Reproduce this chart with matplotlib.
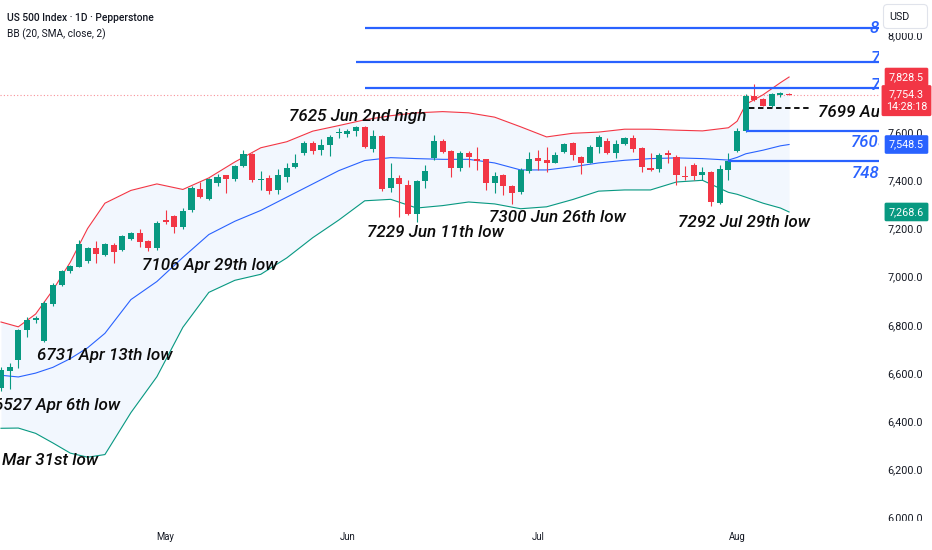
from pathlib import Path

import matplotlib
matplotlib.use("Agg")
from matplotlib import pyplot as plt
from matplotlib import font_manager
from matplotlib.patches import FancyBboxPatch, Rectangle
from matplotlib.ticker import FuncFormatter
import matplotlib.transforms as mtransforms
import numpy as np

# Canvas constants (pixels)
FIG_W, FIG_H, DPI = 932, 550, 100
PLOT_RIGHT_PX = 879
PLOT_BOTTOM_PX = 524
BAR_PX = 8.66          # pixel step between two candles
BAR0_PX = 1.0          # pixel x of the first candle
PX_PER_POINT = 0.241   # vertical pixels per index point
REF_PX, REF_PRICE = 276.7, 7000.0

GREEN = "#089981"
RED = "#F23645"
BLUE = "#2962FF"
TEXT = "#131722"

# Daily candles, Apr 6 .. Aug 11
OPEN = [6540, 6610, 6655, 6777, 6822, 6735, 6887, 6966, 7022, 7042,
        7066, 7120, 7092, 7131, 7112, 7156, 7180, 7148, 7118, 7235,
        7252, 7207, 7277, 7363, 7324, 7390, 7421, 7404, 7459, 7508,
        7401, 7408, 7360, 7415, 7456, 7512, 7556, 7526, 7546, 7595,
        7592, 7606, 7620, 7530, 7584, 7367, 7411, 7380, 7260, 7397,
        7494, 7563, 7523, 7450, 7514, 7487, 7487, 7390, 7422, 7376,
        7353, 7440, 7491, 7484, 7473, 7519, 7553, 7495, 7473, 7539,
        7564, 7512, 7551, 7574, 7533, 7450, 7446, 7512, 7498, 7418,
        7462, 7422, 7436, 7307, 7443, 7522, 7605, 7750, 7736, 7710,
        7756, 7758]
HIGH = [6625, 6640, 6785, 6833, 6838, 6898, 6972, 7028, 7050, 7152,
        7125, 7150, 7140, 7138, 7172, 7185, 7200, 7152, 7232, 7277,
        7258, 7284, 7376, 7394, 7410, 7425, 7424, 7465, 7526, 7512,
        7440, 7422, 7446, 7473, 7509, 7565, 7564, 7570, 7588, 7616,
        7612, 7625, 7624, 7609, 7590, 7470, 7420, 7400, 7400, 7463,
        7588, 7570, 7527, 7523, 7523, 7539, 7490, 7436, 7425, 7380,
        7450, 7519, 7525, 7539, 7519, 7556, 7560, 7500, 7546, 7588,
        7574, 7567, 7581, 7588, 7538, 7512, 7512, 7526, 7505, 7459,
        7470, 7456, 7440, 7463, 7512, 7616, 7757, 7798, 7740, 7761,
        7768, 7764]
LOW = [6527, 6532, 6622, 6750, 6808, 6731, 6878, 6960, 7015, 7040,
       7056, 7057, 7087, 7056, 7108, 7152, 7122, 7106, 7110, 7220,
       7180, 7200, 7270, 7328, 7318, 7375, 7349, 7398, 7455, 7394,
       7360, 7345, 7343, 7394, 7450, 7505, 7509, 7505, 7501, 7574,
       7578, 7585, 7535, 7519, 7357, 7353, 7246, 7255, 7229, 7367,
       7484, 7515, 7412, 7440, 7456, 7443, 7360, 7349, 7339, 7300,
       7345, 7429, 7443, 7435, 7470, 7512, 7484, 7426, 7470, 7512,
       7509, 7491, 7546, 7519, 7436, 7440, 7436, 7473, 7380, 7401,
       7401, 7401, 7292, 7300, 7401, 7519, 7602, 7730, 7708, 7705,
       7747, 7752]
CLOSE = [6612, 6625, 6779, 6820, 6826, 6890, 6966, 7024, 7044, 7134,
         7120, 7094, 7134, 7104, 7168, 7180, 7145, 7118, 7224, 7226,
         7206, 7274, 7367, 7332, 7404, 7415, 7404, 7459, 7508, 7401,
         7406, 7357, 7422, 7452, 7473, 7556, 7523, 7546, 7578, 7602,
         7606, 7620, 7539, 7584, 7365, 7408, 7385, 7260, 7397, 7439,
         7563, 7519, 7450, 7514, 7498, 7481, 7390, 7418, 7376, 7346,
         7443, 7488, 7481, 7473, 7505, 7549, 7505, 7471, 7539, 7581,
         7512, 7551, 7574, 7529, 7456, 7443, 7505, 7506, 7422, 7412,
         7418, 7436, 7311, 7447, 7480, 7605, 7750, 7733, 7710, 7757,
         7758, 7754.3]

# Bollinger bands (20, 2) read at these bars
BAND_IDX = [0, 2, 4, 6, 8, 10, 12, 15, 18, 21, 24, 27, 30, 33, 36, 39, 42, 45,
            48, 51, 54, 57, 60, 63, 66, 69, 72, 75, 78, 81, 84, 85, 86, 88, 90, 91]
BB_UPPER = [6812, 6792, 6845, 6945, 7060, 7200, 7305, 7358, 7385, 7362, 7410, 7476,
            7535, 7560, 7604, 7627, 7651, 7668, 7680, 7685, 7680, 7662, 7622, 7580,
            7595, 7600, 7612, 7612, 7608, 7605, 7618, 7645, 7715, 7755, 7805, 7828.5]
BB_BASIS = [6591, 6584, 6600, 6624, 6660, 6705, 6765, 6905, 6980, 7080, 7175, 7230,
            7275, 7330, 7385, 7440, 7482, 7494, 7490, 7487, 7487, 7472, 7443, 7443,
            7456, 7472, 7483, 7490, 7493, 7490, 7484, 7495, 7510, 7525, 7543, 7548.5]
BB_LOWER = [6371, 6372, 6350, 6310, 6268, 6251, 6262, 6436, 6585, 6790, 6935, 6985,
            7010, 7078, 7162, 7235, 7315, 7321, 7285, 7295, 7310, 7302, 7282, 7290,
            7320, 7355, 7360, 7360, 7393, 7400, 7350, 7342, 7330, 7305, 7285, 7268.6]

MONTHS = ["May", "Jun", "Jul", "Aug"]
MONTH_BARS = [19, 40, 62, 85]
PRICE_TICKS = [6000, 6200, 6400, 6600, 6800, 7000, 7200, 7400, 7600, 8000]

# Drawn horizontal levels and the bar each one starts from
LEVELS = [8031, 7890, 7782, 7605, 7482]
LEVEL_FROM = [42, 41, 42, 86, 84]
LEVEL_LABEL_BARS = [100.3, 100.4, 100.4, 98.15, 98.3]
LEVEL_LABEL_PRICES = [8010, 7885, 7775, 7539, 7408]

SWING_LEVEL = 7699
SWING_SPAN = (86.35, 93.6)

NOTES = ["7625 Jun 2nd high", "7229 Jun 11th low", "7300 Jun 26th low",
         "7292 Jul 29th low", "7106 Apr 29th low", "6731 Apr 13th low",
         "6527 Apr 6th low", "Mar 31st low", "7699 Aug 6th low"]
NOTE_BARS = [33.26, 42.23, 56.39, 78.21, 16.25, 4.19, -0.81, 0.08, 94.38]
NOTE_PRICES = [7647, 7166, 7228, 7207, 7028, 6654, 6447, 6218, 7664]


def px_to_bar(px: float) -> float:
    return (px - BAR0_PX) / BAR_PX


def py_to_price(py: float) -> float:
    return REF_PRICE + (REF_PX - py) / PX_PER_POINT


def pick_note_font() -> font_manager.FontProperties:
    files = {Path(f.fname).name: f.fname for f in font_manager.fontManager.ttflist}
    for name in ("Roboto-MediumItalic.ttf", "Roboto-Italic.ttf", "DejaVuSansCondensed-Oblique.ttf"):
        if name in files:
            return font_manager.FontProperties(fname=files[name])
    return font_manager.FontProperties(family=["Roboto", "DejaVu Sans"], style="italic", weight="medium")


plt.rcParams["font.family"] = ["Roboto", "DejaVu Sans"]

fig = plt.figure(figsize=(FIG_W / DPI, FIG_H / DPI), dpi=DPI)
fig.patch.set_facecolor("white")
ax = fig.add_axes([0, 1 - PLOT_BOTTOM_PX / FIG_H, PLOT_RIGHT_PX / FIG_W, PLOT_BOTTOM_PX / FIG_H])
renderer = fig.canvas.get_renderer()

# pixel transform, origin top-left, y down
px_trans = mtransforms.Affine2D().scale(1 / FIG_W, -1 / FIG_H).translate(0, 1) + fig.transFigure


def fit_size(text: str, target_px: float, **kw) -> float:
    probe = fig.text(0, 0, text, **kw)
    probe.set_fontsize(10)
    width = probe.get_window_extent(renderer).width
    probe.remove()
    return 10 * target_px / width


note_fp = pick_note_font()
note_size = fit_size("7625 Jun 2nd high", 137.5, fontproperties=note_fp)
level_size = fit_size("760", 27.5, fontproperties=note_fp)
axis_size = fit_size("7,000.0", 35)
month_size = fit_size("May", 18)
title_size = fit_size("US 500 Index · 1D · Pepperstone", 148, fontweight="medium")
bb_size = fit_size("BB (20, SMA, close, 2)", 98)

ax.set_xlim(px_to_bar(0), px_to_bar(PLOT_RIGHT_PX))
ax.set_ylim(py_to_price(PLOT_BOTTOM_PX), py_to_price(0))

# Bollinger bands
ax.fill_between(BAND_IDX, BB_UPPER, BB_LOWER, color="#F2F7FE", lw=0, zorder=1)
ax.plot(BAND_IDX, BB_UPPER, color=RED, lw=0.8, zorder=2)
ax.plot(BAND_IDX, BB_BASIS, color=BLUE, lw=0.8, zorder=2)
ax.plot(BAND_IDX, BB_LOWER, color=GREEN, lw=0.8, zorder=2)

# Candles
o, h, l, c = (np.asarray(a, dtype=float) for a in (OPEN, HIGH, LOW, CLOSE))
idx = np.arange(len(c))
colors = np.where(c >= o, GREEN, RED)
body = np.maximum(np.abs(c - o), 1.2 / PX_PER_POINT)
ax.vlines(idx, l, h, colors=colors, lw=0.8, zorder=3)
ax.bar(idx, body, bottom=np.minimum(o, c), width=0.7, color=colors, lw=0, zorder=3)

# Current price line
ax.axhline(CLOSE[-1], color=RED, lw=0.8, ls=(0, (1, 2)), alpha=0.55, zorder=2)

# Levels
right_bar = px_to_bar(PLOT_RIGHT_PX)
ax.hlines(LEVELS, LEVEL_FROM, right_bar, colors=BLUE, lw=1.6, zorder=4)
ax.hlines(SWING_LEVEL, *SWING_SPAN, colors="black", lw=1.3, linestyles=(0, (3, 2)), zorder=4)
for lvl, bx, by in zip(LEVELS, LEVEL_LABEL_BARS, LEVEL_LABEL_PRICES):
    ax.text(bx, by, str(lvl), fontproperties=note_fp, fontsize=level_size,
            color=BLUE, va="baseline", ha="left", clip_on=True, zorder=5)

for s, bx, by in zip(NOTES, NOTE_BARS, NOTE_PRICES):
    ax.text(bx, by, s, fontproperties=note_fp, fontsize=note_size, color="#0b0b0b",
            va="baseline", ha="left", clip_on=True, zorder=5)

# Axes styling
for sp in ax.spines.values():
    sp.set_visible(False)
ax.yaxis.tick_right()
ax.set_yticks(PRICE_TICKS)
ax.yaxis.set_major_formatter(FuncFormatter(lambda v, _: f"{v:,.1f}"))
ax.tick_params(axis="y", length=0, pad=5.8, labelcolor=TEXT, labelsize=axis_size)
ax.set_xticks(MONTH_BARS, MONTHS)
ax.tick_params(axis="x", length=0, pad=5.5, labelcolor=TEXT, labelsize=month_size)

# Price tags on the scale
blend = mtransforms.blended_transform_factory(px_trans, ax.transData)
TAG_X = 906.5
tags = [(BB_UPPER[-1], RED), (BB_BASIS[-1], BLUE), (BB_LOWER[-1], GREEN)]
for price, col in tags:
    ax.text(TAG_X, price, f"{price:,.1f}", transform=blend, ha="center", va="center",
            color="white", fontsize=axis_size, clip_on=False, zorder=10,
            bbox=dict(boxstyle="round,pad=0.4,rounding_size=0.15", fc=col, ec="none"))
ax.text(TAG_X, CLOSE[-1] + 5.5 / PX_PER_POINT, f"{CLOSE[-1]:,.1f}\n14:28:18", transform=blend,
        ha="center", va="top", multialignment="center", linespacing=1.3,
        color="white", fontsize=axis_size, clip_on=False, zorder=10,
        bbox=dict(boxstyle="round,pad=0.4,rounding_size=0.15", fc=RED, ec="none"))

# Currency box top right
fig.add_artist(Rectangle((880, 0), 52, 32.5, transform=px_trans, fc="white", ec="none", zorder=9))
fig.add_artist(Rectangle((880, 521), 52, 6, transform=px_trans, fc="white", ec="none", zorder=9))
fig.add_artist(FancyBboxPatch((883.5, 4.5), 44, 24, boxstyle="round,pad=0,rounding_size=4",
                              transform=px_trans, fc="white", ec="#E0E3EB", lw=0.8, zorder=10))
fig.text(889, 16.5, "USD", transform=px_trans, va="center", ha="left",
         fontsize=axis_size, color=TEXT, zorder=11)

# Header
fig.text(7, 20.7, "US 500 Index · 1D · Pepperstone", transform=px_trans, va="baseline",
         fontsize=title_size, fontweight="medium", color=TEXT)
fig.text(7, 37, "BB (20, SMA, close, 2)", transform=px_trans, va="baseline",
         fontsize=bb_size, color=TEXT)

fig.savefig("out.png", dpi=DPI, facecolor="white")
